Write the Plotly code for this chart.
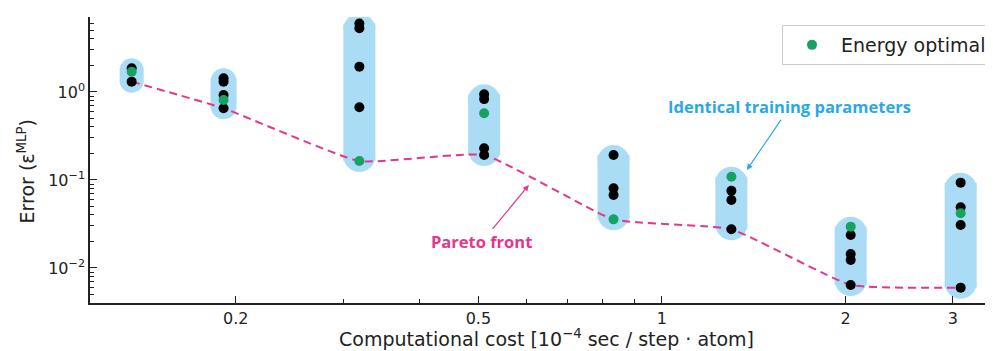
import math
import plotly.graph_objects as go

# ---- data ----
cost = [0.135, 0.191, 0.319, 0.511, 0.833, 1.30, 2.04, 3.09]
black_err = [
    [1.86, 1.31],
    [1.43, 1.31, 0.925, 0.653],
    [6.0, 5.3, 1.94, 0.67],
    [0.94, 0.83, 0.229, 0.192],
    [0.192, 0.0805, 0.0676],
    [0.0756, 0.0593, 0.0275],
    [0.0237, 0.0144, 0.0123, 0.00641],
    [0.0933, 0.0489, 0.0308, 0.00598],
]
green_err = [1.70, 0.81, 0.164, 0.573, 0.0357, 0.109, 0.0295, 0.0418]
pareto_err = [1.31, 0.653, 0.164, 0.192, 0.0357, 0.0275, 0.00641, 0.00598]

x_tickvals = [0.2, 0.5, 1, 2, 3]
x_ticktext = ["0.2", "0.5", "1", "2", "3"]
y_tickvals = [1, 0.1, 0.01]
y_ticktext = ["10<sup>0</sup>", "10<sup>\u22121</sup>", "10<sup>\u22122</sup>"]

# ---- styles ----
PINK = "#e5358f"
BLUE_TXT = "#2aa8e6"
CAPSULE = "#aadcf6"
GREEN = "#17a262"
capsule_w = [24, 26, 32, 32, 32, 32, 32, 32]
PAD_TOP = 10
PAD_BOT = 11
K = 0.5523


def fmt(v):
    return f"{v:.6f}"


def cap_path(r, c, up=True):
    s = 1 if up else -1
    top = c + s * r
    return (f"M {fmt(-r)},{fmt(c)} "
            f"C {fmt(-r)},{fmt(c + s * K * r)} {fmt(-K * r)},{fmt(top)} 0,{fmt(top)} "
            f"C {fmt(K * r)},{fmt(top)} {fmt(r)},{fmt(c + s * K * r)} {fmt(r)},{fmt(c)} Z")


fig = go.Figure()

# capsules behind each column
shapes = []
for i, xc in enumerate(cost):
    ys = black_err[i] + [green_err[i]]
    ymin, ymax = min(ys), max(ys)
    r = capsule_w[i] / 2
    base = dict(type="path", xref="x", yref="y", xsizemode="pixel", xanchor=xc,
                fillcolor=CAPSULE, line=dict(width=0), layer="below")
    shapes.append(dict(path=(f"M {fmt(-r)},{fmt(ymin)} L {fmt(r)},{fmt(ymin)} "
                             f"L {fmt(r)},{fmt(ymax)} L {fmt(-r)},{fmt(ymax)} Z"),
                       **base))
    shapes.append(dict(path=cap_path(r, PAD_TOP - r, up=True),
                       ysizemode="pixel", yanchor=ymax, **base))
    shapes.append(dict(path=cap_path(r, r - PAD_BOT, up=False),
                       ysizemode="pixel", yanchor=ymin, **base))

# pareto front
fig.add_trace(go.Scatter(
    x=cost, y=pareto_err, mode="lines",
    line=dict(color=PINK, width=2, dash="8px,5px", shape="spline", smoothing=0.4),
    showlegend=False, hoverinfo="skip"))

# black points
bx, by = [], []
for xc, ys in zip(cost, black_err):
    for v in ys:
        bx.append(xc)
        by.append(v)
fig.add_trace(go.Scatter(x=bx, y=by, mode="markers",
                         marker=dict(color="black", size=10),
                         showlegend=False))

# energy optimal
fig.add_trace(go.Scatter(x=cost, y=green_err, mode="markers",
                         marker=dict(color=GREEN, size=10),
                         name="Energy optimal"))

ann_font = dict(family="Open Sans, Noto Sans, sans-serif", size=16.5, weight=700)
annotations = [
    dict(x=math.log10(0.605), y=math.log10(0.0877), xref="x", yref="y",
         text="Pareto front", showarrow=True, ax=-47, ay=57,
         arrowhead=2, arrowsize=1, arrowwidth=1.2, arrowcolor=PINK,
         standoff=0, font=dict(color=PINK, **ann_font)),
    dict(x=math.log10(1.378), y=math.log10(0.130), xref="x", yref="y",
         text="Identical training parameters", showarrow=True, ax=43, ay=-63,
         arrowhead=2, arrowsize=1, arrowwidth=1.2, arrowcolor=BLUE_TXT,
         standoff=0, font=dict(color=BLUE_TXT, **ann_font)),
    dict(x=-0.0698, y=0.4598, xref="paper", yref="paper",
         text="Error (\u03b5<sup>MLP</sup>)", textangle=-90, showarrow=False,
         xanchor="center", yanchor="middle",
         font=dict(family="DejaVu Sans", size=19, color="#222")),
    dict(x=0.505, y=-0.1224, xref="paper", yref="paper",
         text="Computational cost [10<sup>\u22124</sup> sec / step \u00b7 atom]",
         showarrow=False, xanchor="center", yanchor="middle",
         font=dict(family="DejaVu Sans", size=19, color="#222")),
]

minor_y = [m * 10 ** e for e in (-3, -2, -1, 0) for m in range(2, 10)]
minor_x = [0.3, 0.4, 0.6, 0.7, 0.8, 0.9]

# the page body adds an 8px offset; size the figure so the plot lands as in the reference
fig.update_layout(
    width=985, height=343,
    margin=dict(l=82, r=0, t=9, b=48),
    paper_bgcolor="white", plot_bgcolor="white",
    font=dict(family="DejaVu Sans", size=16, color="#222"),
    shapes=shapes, annotations=annotations,
    legend=dict(x=0.9989, y=0.972, xanchor="right", yanchor="top",
                bgcolor="white", bordercolor="#cccccc", borderwidth=1,
                font=dict(family="DejaVu Sans", size=19, color="#222"),
                itemwidth=48),
    xaxis=dict(type="log", range=[-0.938, 0.543],
               tickvals=x_tickvals, ticktext=x_ticktext,
               ticks="inside", ticklen=7, tickwidth=1, tickcolor="#222",
               minor=dict(tickvals=minor_x, ticks="inside", ticklen=4,
                          tickwidth=1, tickcolor="#222"),
               showline=True, linecolor="#222", linewidth=1.5,
               showgrid=False, zeroline=False),
    yaxis=dict(type="log", range=[-2.398, 0.852],
               tickvals=y_tickvals, ticktext=y_ticktext,
               ticks="inside", ticklen=7, tickwidth=1, tickcolor="#222",
               minor=dict(tickvals=minor_y, ticks="inside", ticklen=4,
                          tickwidth=1, tickcolor="#222"),
               showline=True, linecolor="#222", linewidth=1.5,
               showgrid=False, zeroline=False),
)

fig.write_html("out.html")
